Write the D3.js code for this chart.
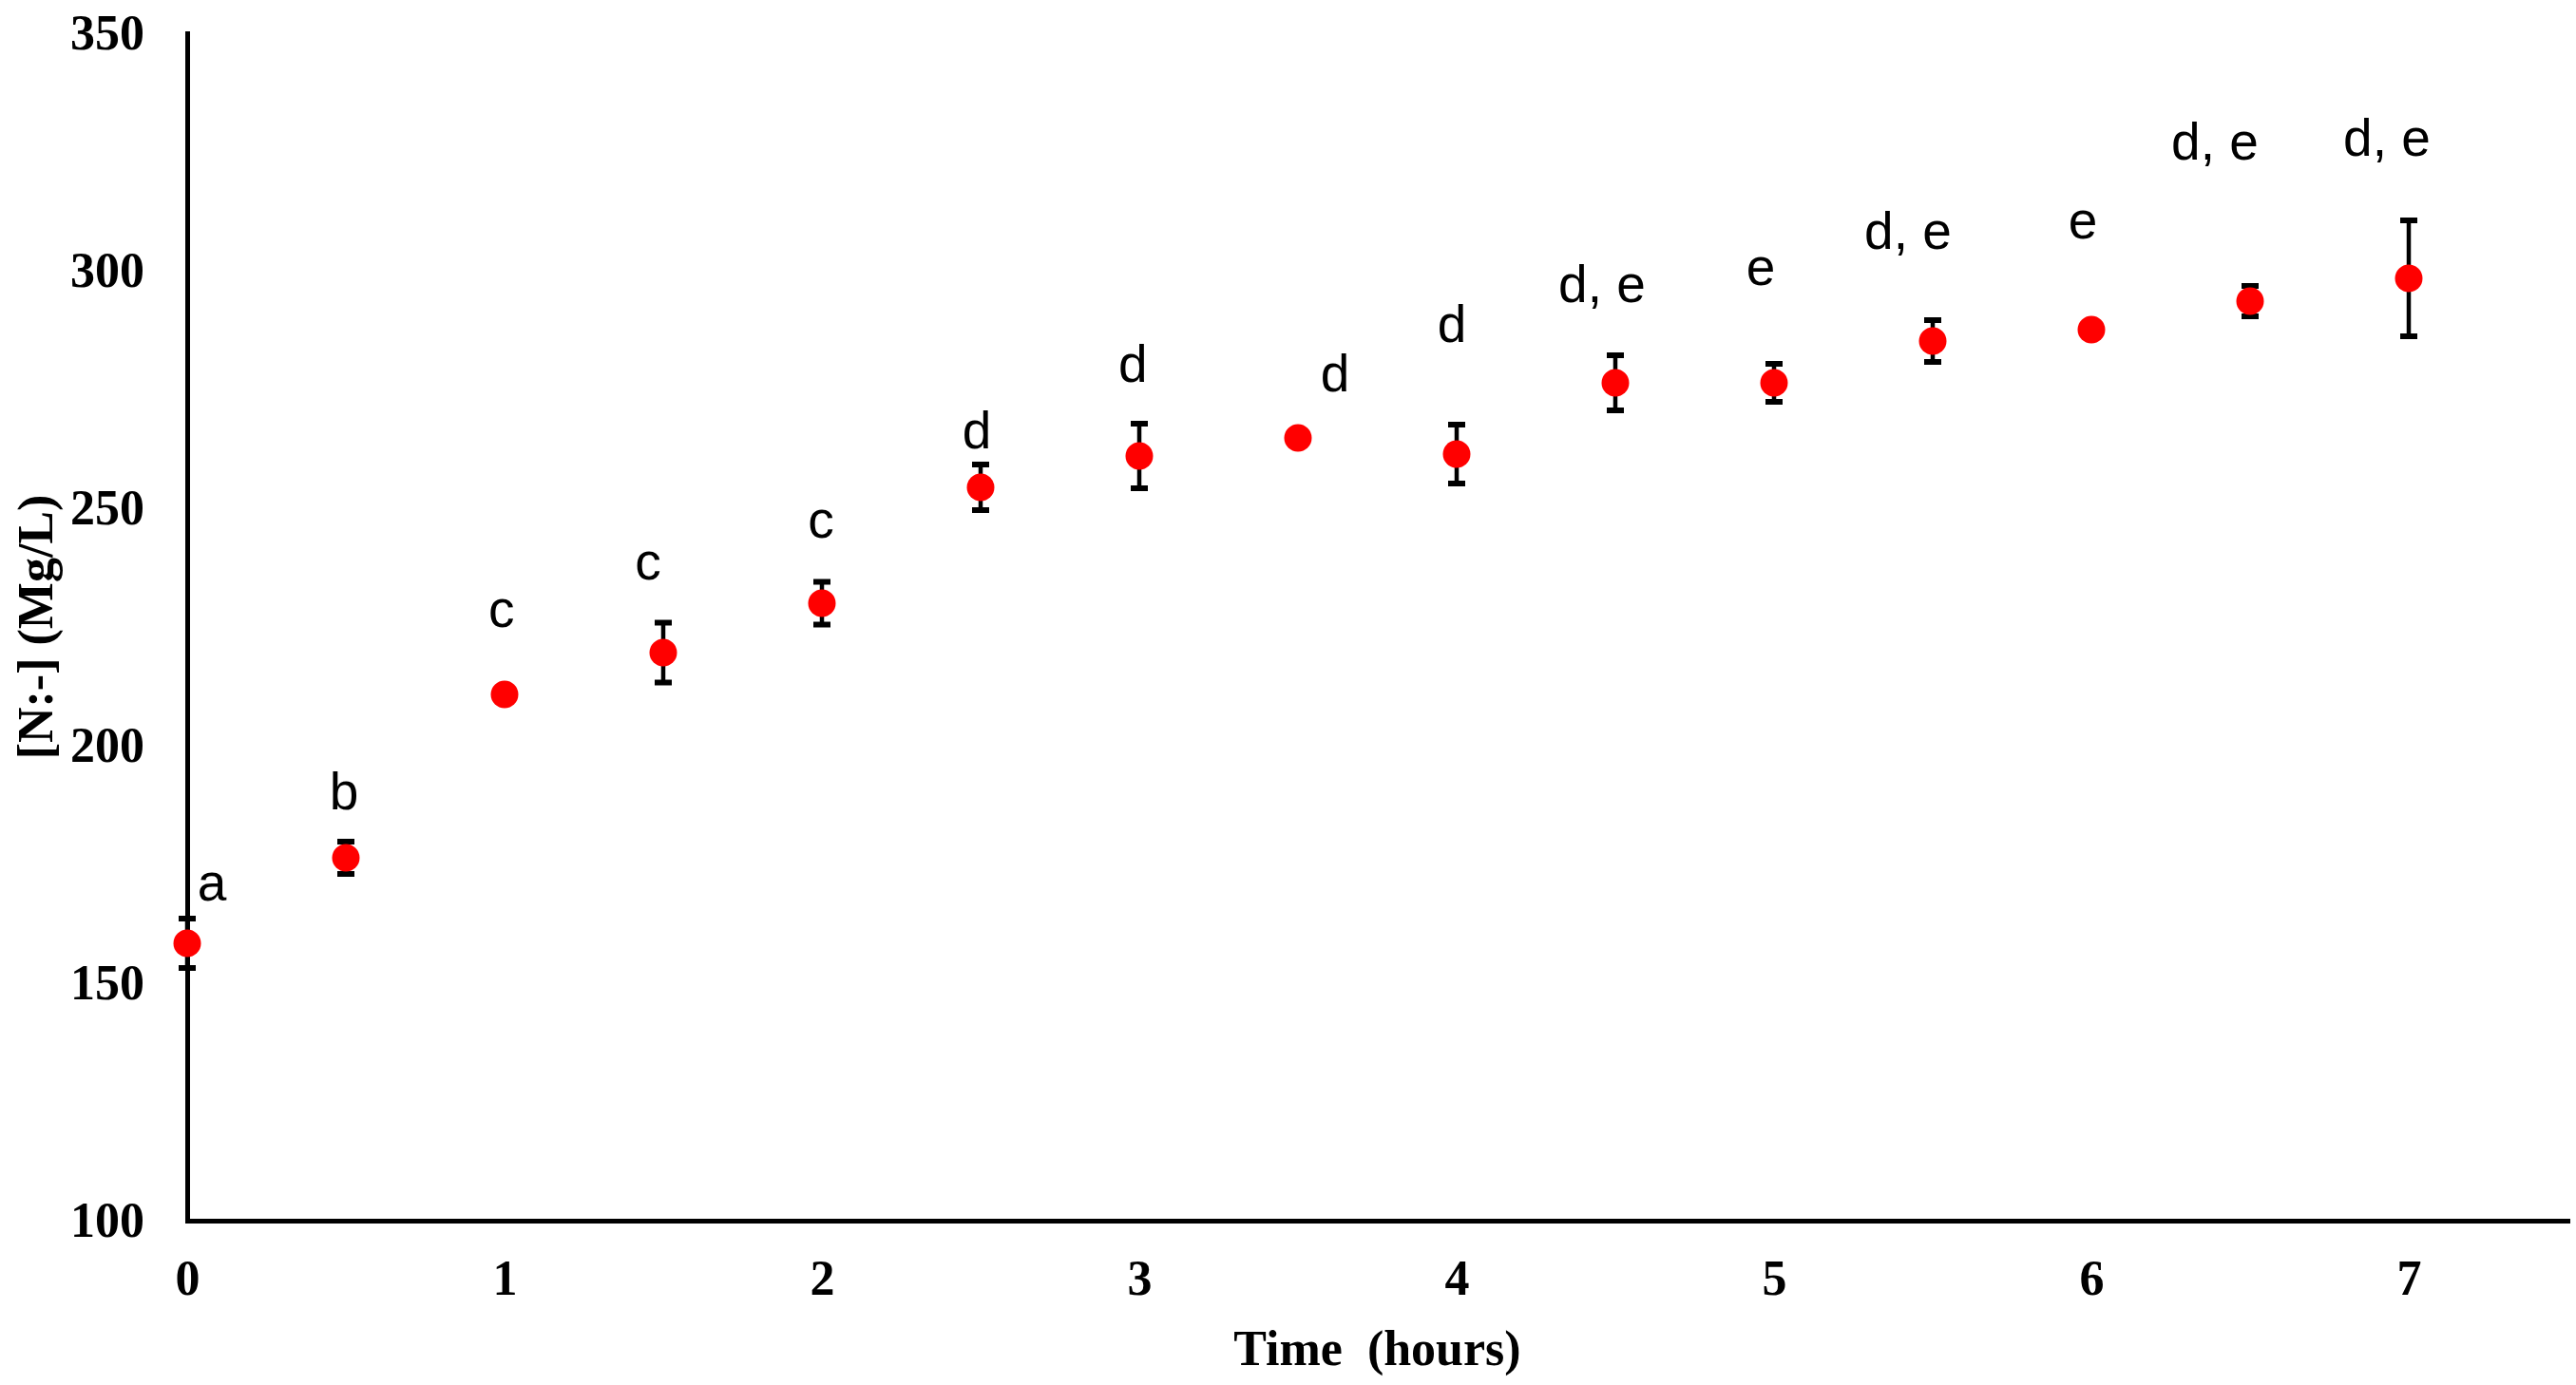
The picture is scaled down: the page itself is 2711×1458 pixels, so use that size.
<!DOCTYPE html>
<html>
<head>
<meta charset="utf-8">
<script src="https://cdn.jsdelivr.net/npm/d3@7"></script>
<style>
  html, body { margin: 0; padding: 0; background: #ffffff; }
  svg { display: block; }
</style>
</head>
<body>
<svg id="chart" width="2711" height="1458"></svg>
<script>
// ---- data ----
const times      = [0, 0.5, 1, 1.5, 2, 2.5, 3, 3.5, 4, 4.5, 5, 5.5, 6, 6.5, 7];
const means      = [158.4, 176.4, 210.8, 219.6, 230.0, 254.4, 261.0, 264.8, 261.4, 276.4, 276.4, 285.2, 287.6, 293.6, 298.4];
const errors     = [5.2, 3.4, 1.5, 6.3, 4.5, 4.8, 6.8, 1.5, 6.2, 5.8, 4.0, 4.4, 0.8, 3.2, 12.2];
const letters    = ["a", "b", "c", "c", "c", "d", "d", "d", "d", "d, e", "e", "d, e", "e", "d, e", "d, e"];
const letterX    = [0.078, 0.494, 0.99, 1.452, 1.997, 2.488, 2.98, 3.617, 3.985, 4.458, 4.958, 5.422, 5.973, 6.389, 6.931];
const letterY    = [167.4, 186.6, 225.0, 235.0, 243.8, 262.6, 276.6, 274.6, 285.0, 293.4, 297.0, 304.6, 306.8, 323.4, 324.2];
const xTicks     = [0, 1, 2, 3, 4, 5, 6, 7];
const yTicks     = [100, 150, 200, 250, 300, 350];
const xTitle     = "Time  (hours)";
const yTitle     = "[N:-] (Mg/L)";

(function () {
  // ---- layout ----
  const svg = d3.select("#chart");
  const mLeft = 197, mRight = 2702, mTop = 35, mBottom = 1285;

  const x = d3.scaleLinear().domain([0, 7.5]).range([mLeft, mRight]);
  const y = d3.scaleLinear().domain([100, 350]).range([mBottom, mTop]);

  const serif = "'Liberation Serif', 'Times New Roman', serif";
  const sans  = "'Liberation Sans', Arial, sans-serif";

  // axes
  const xAxis = svg.append("g")
    .attr("transform", `translate(0,${mBottom})`)
    .call(d3.axisBottom(x).tickValues(xTicks).tickSize(0).tickPadding(41).tickFormat(d3.format("d")));
  const yAxis = svg.append("g")
    .attr("transform", `translate(${mLeft},0)`)
    .call(d3.axisLeft(y).tickValues(yTicks).tickSize(0).tickPadding(45).tickFormat(d3.format("d")));

  [xAxis, yAxis].forEach(g => {
    g.select(".domain").attr("stroke", "#000").attr("stroke-width", 5).attr("stroke-linecap", "square");
    g.selectAll(".tick text")
      .attr("fill", "#000")
      .style("font-family", serif)
      .style("font-weight", "bold")
      .style("font-size", "52px");
  });

  // axis titles
  svg.append("text")
    .attr("x", (mLeft + mRight) / 2)
    .attr("y", 1437)
    .attr("text-anchor", "middle")
    .style("white-space", "pre")
    .style("font-family", serif)
    .style("font-weight", "bold")
    .style("font-size", "52px")
    .text(xTitle);

  svg.append("text")
    .attr("transform", `translate(55,${(mTop + mBottom) / 2}) rotate(-90)`)
    .attr("text-anchor", "middle")
    .style("font-family", serif)
    .style("font-weight", "bold")
    .style("font-size", "52px")
    .text(yTitle);

  const data = times.map((t, i) => ({ t, m: means[i], e: errors[i], lab: letters[i], lx: letterX[i], ly: letterY[i] }));

  // error bars
  const eb = svg.append("g").attr("stroke", "#000");
  const capW = 9;
  eb.selectAll("line.v").data(data).join("line")
    .attr("class", "v")
    .attr("x1", d => x(d.t)).attr("x2", d => x(d.t))
    .attr("y1", d => y(d.m - d.e)).attr("y2", d => y(d.m + d.e))
    .attr("stroke-width", 4.5);
  eb.selectAll("line.capt").data(data).join("line")
    .attr("class", "capt")
    .attr("x1", d => x(d.t) - capW).attr("x2", d => x(d.t) + capW)
    .attr("y1", d => y(d.m + d.e)).attr("y2", d => y(d.m + d.e))
    .attr("stroke-width", 6);
  eb.selectAll("line.capb").data(data).join("line")
    .attr("class", "capb")
    .attr("x1", d => x(d.t) - capW).attr("x2", d => x(d.t) + capW)
    .attr("y1", d => y(d.m - d.e)).attr("y2", d => y(d.m - d.e))
    .attr("stroke-width", 6);

  // points
  svg.append("g").selectAll("circle").data(data).join("circle")
    .attr("cx", d => x(d.t))
    .attr("cy", d => y(d.m))
    .attr("r", 14.5)
    .attr("fill", "#ff0000");

  // significance letters
  svg.append("g").selectAll("text").data(data).join("text")
    .attr("x", d => x(d.lx))
    .attr("y", d => y(d.ly))
    .attr("text-anchor", "middle")
    .style("white-space", "pre")
    .style("font-family", sans)
    .style("font-size", "55px")
    .attr("fill", "#000")
    .text(d => d.lab);
})();
</script>
</body>
</html>
